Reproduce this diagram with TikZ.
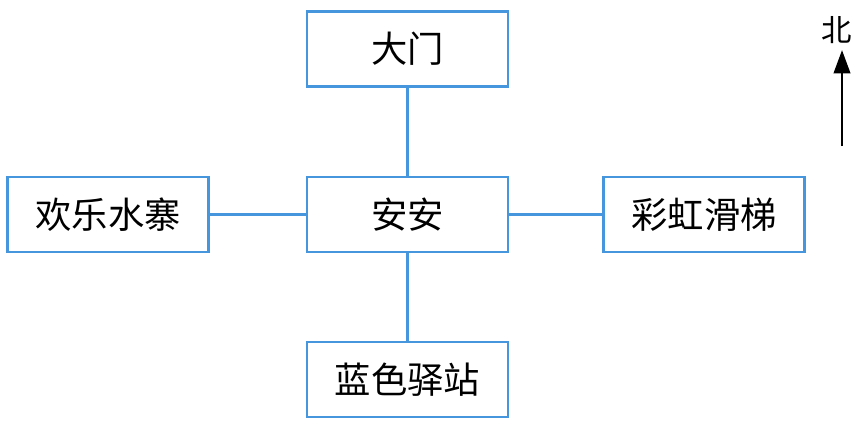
\documentclass[tikz,border=0pt]{standalone}
\usepackage{fontspec}
\newfontfamily\cjk{Noto Sans CJK SC}
\usetikzlibrary{arrows.meta, positioning}
\definecolor{mapblue}{RGB}{70,150,222}
\tikzset{
  place/.style={draw=mapblue, line width=2.2pt, minimum width=6.03cm, minimum height=2.25cm, inner sep=0pt, font=\cjk\fontsize{31}{36}\selectfont},
  road/.style={draw=mapblue, line width=2.2pt}
}

\begin{document}
\begin{tikzpicture}[x=0.03cm, y=-0.03cm]
\useasboundingbox (0,0) rectangle (853,422);
%the five places
\node[place] (an) at (407.5,214.5) {安安};
\node[place] (gate) at (407.5,49) {大门};
\node[place] (water) at (108,214.5) {欢乐水寨};
\node[place] (slide) at (704,214.5) {彩虹滑梯};
\node[place] (station) at (407.5,379.5) {蓝色驿站};
%roads
\draw[road] (an) -- (gate);
\draw[road] (an) -- (water);
\draw[road] (an) -- (slide);
\draw[road] (an) -- (station);
%north arrow
\coordinate (tail) at (842,146);
\node[font=\cjk\fontsize{26}{30}\selectfont, inner sep=0pt] (north) at (837,30) {北};
\draw[line width=2.4pt, -{Triangle[length=20pt, width=14pt]}] (tail) -- (tail |- 0,50);
\end{tikzpicture}
\end{document}
